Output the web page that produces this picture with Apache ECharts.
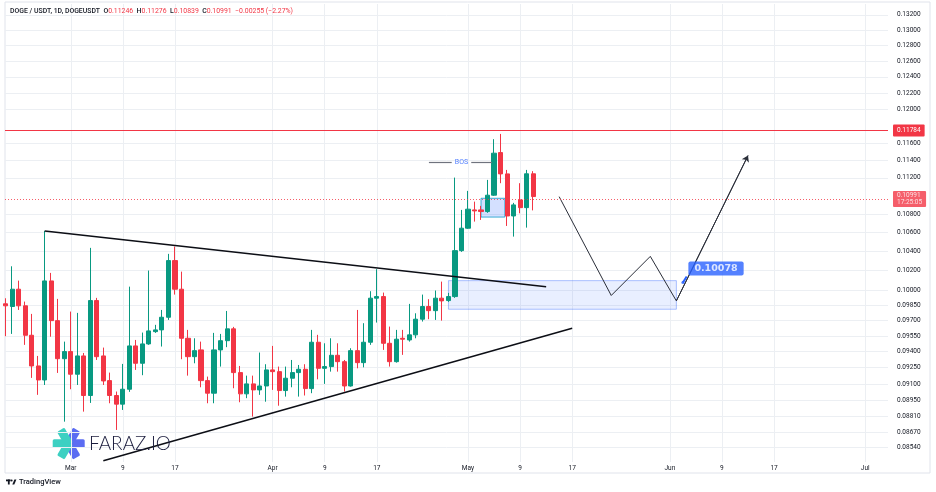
<!DOCTYPE html>
<html>
<head>
<meta charset="utf-8">
<style>
  html, body { margin: 0; padding: 0; background: #fff; }
  #chart { width: 936px; height: 492px; }
</style>
<script src="https://cdn.jsdelivr.net/npm/echarts@6.0.0/dist/echarts.min.js"></script>
</head>
<body>
<div id="chart"></div>
<script>
// DOGE / USDT daily candles, first bar on firstDay, one bar per day
const firstDay = '2023-02-19';
const opens = [0.09865, 0.09838, 0.10011, 0.09845, 0.09557, 0.09266, 0.09136, 0.10095, 0.09699, 0.09334,
  0.09401, 0.09189, 0.09360, 0.08994, 0.09897, 0.09360, 0.09130, 0.08994, 0.08916, 0.09051,
  0.09455, 0.09291, 0.09474, 0.09592, 0.09609, 0.09732, 0.10304, 0.10011, 0.09528, 0.09353,
  0.09417, 0.09130, 0.09015, 0.09417, 0.09505, 0.09619, 0.09204, 0.09009, 0.09100, 0.09045,
  0.09081, 0.09229, 0.09213, 0.09039, 0.09152, 0.09204, 0.09235, 0.09057, 0.09490, 0.09244,
  0.09260, 0.09366, 0.09306, 0.09081, 0.09410, 0.09297, 0.09490, 0.09921, 0.09937, 0.09480,
  0.09306, 0.09528, 0.09512, 0.09561, 0.09713, 0.09838, 0.09797, 0.09921, 0.09897, 0.09937,
  0.10408, 0.10646, 0.10844, 0.10844, 0.10826, 0.11006, 0.11489, 0.11245, 0.10778, 0.10954,
  0.10869, 0.11246];
const highs = [0.09920, 0.10245, 0.10098, 0.09887, 0.09765, 0.09360, 0.10617, 0.10177, 0.09914, 0.09496,
  0.09788, 0.09775, 0.09388, 0.10437, 0.09924, 0.09439, 0.09204, 0.09030, 0.09285, 0.10037,
  0.09512, 0.09583, 0.10201, 0.09658, 0.09804, 0.10374, 0.10451, 0.10190, 0.09609, 0.09528,
  0.09496, 0.09167, 0.09580, 0.09570, 0.09794, 0.09638, 0.09266, 0.09176, 0.09176, 0.09392,
  0.09282, 0.09455, 0.09260, 0.09260, 0.09322, 0.09275, 0.09282, 0.09609, 0.09561, 0.09480,
  0.09528, 0.09480, 0.09322, 0.09433, 0.09804, 0.09674, 0.09991, 0.10215, 0.09977, 0.09641,
  0.09609, 0.09609, 0.09864, 0.09771, 0.09957, 0.09911, 0.09998, 0.10088, 0.09974, 0.11203,
  0.10844, 0.11054, 0.10935, 0.10888, 0.11177, 0.11645, 0.11707, 0.11290, 0.10921, 0.11140,
  0.11290, 0.11276];
const lows = [0.09548, 0.09570, 0.09804, 0.09465, 0.09155, 0.09000, 0.09090, 0.09543, 0.09201, 0.08760,
  0.09051, 0.09090, 0.08849, 0.08927, 0.09322, 0.09090, 0.08924, 0.08687, 0.08864, 0.09027,
  0.09229, 0.09180, 0.09465, 0.09580, 0.09449, 0.09706, 0.09957, 0.09329, 0.09176, 0.09291,
  0.09069, 0.08924, 0.08924, 0.09260, 0.09443, 0.09060, 0.08933, 0.08970, 0.08805, 0.09000,
  0.08938, 0.09045, 0.08902, 0.08984, 0.09069, 0.08984, 0.08994, 0.09015, 0.09142, 0.09100,
  0.09213, 0.09213, 0.09030, 0.09075, 0.09244, 0.09253, 0.09465, 0.09680, 0.09417, 0.09260,
  0.09297, 0.09370, 0.09496, 0.09528, 0.09690, 0.09713, 0.09706, 0.09699, 0.09884, 0.09924,
  0.10395, 0.10639, 0.10717, 0.10735, 0.10812, 0.10998, 0.11140, 0.10670, 0.10556, 0.10807,
  0.10652, 0.10839];
const closes = [0.09845, 0.10011, 0.09845, 0.09557, 0.09266, 0.09136, 0.10095, 0.09699, 0.09334, 0.09401,
  0.09189, 0.09360, 0.08994, 0.09897, 0.09353, 0.09127, 0.08994, 0.08916, 0.09051, 0.09455,
  0.09291, 0.09474, 0.09599, 0.09609, 0.09732, 0.10304, 0.10011, 0.09528, 0.09353, 0.09410,
  0.09130, 0.09015, 0.09417, 0.09505, 0.09619, 0.09204, 0.09009, 0.09100, 0.09045, 0.09081,
  0.09229, 0.09213, 0.09039, 0.09152, 0.09204, 0.09235, 0.09057, 0.09490, 0.09244, 0.09260,
  0.09366, 0.09306, 0.09081, 0.09410, 0.09297, 0.09490, 0.09921, 0.09937, 0.09480, 0.09306,
  0.09519, 0.09519, 0.09561, 0.09713, 0.09838, 0.09797, 0.09921, 0.09894, 0.09937, 0.10408,
  0.10646, 0.10852, 0.10833, 0.10826, 0.11006, 0.11482, 0.11245, 0.10778, 0.10899, 0.10869,
  0.11246, 0.10991];

// axis ticks
const xTickDates = ['2023-03-01', '2023-03-09', '2023-03-17', '2023-04-01', '2023-04-09', '2023-04-17',
  '2023-05-01', '2023-05-09', '2023-05-17', '2023-06-01', '2023-06-09', '2023-06-17', '2023-07-01'];
const xTickLabels = ['Mar', '9', '17', 'Apr', '9', '17', 'May', '9', '17', 'Jun', '9', '17', 'Jul'];
const yTicks = [0.132, 0.130, 0.128, 0.126, 0.124, 0.122, 0.120, 0.116, 0.114, 0.112, 0.108, 0.106,
  0.104, 0.102, 0.100, 0.0985, 0.097, 0.0955, 0.094, 0.0925, 0.091, 0.0895, 0.0881, 0.0867, 0.0854];

// drawings
const resistance = 0.11784;
const lastPrice = 0.10991;
const lastTime = '17:25:05';
const upperTrend = [['2023-02-25', 0.10617], ['2023-05-13', 0.10037]];
const lowerTrend = [['2023-03-06', 0.08422], ['2023-05-17', 0.09624]];
const projection = [['2023-05-15', 0.10990], ['2023-05-23', 0.09948], ['2023-05-29', 0.10348],
  ['2023-06-02', 0.09894], ['2023-06-13', 0.11454]];
const demandZone = [['2023-04-28', 0.10098], ['2023-06-02', 0.09811]];
const bosBox = [['2023-05-03', 0.10972], ['2023-05-06 16:00', 0.10766]];
const bosLevel = 0.11382;
const bosSegments = [['2023-04-25', '2023-04-28 12:00'], ['2023-05-01 12:00', '2023-05-04 16:00']];
const bosTextDay = '2023-04-30';
const target = ['2023-06-03', 0.10078];
const targetTip = ['2023-06-03 14:00', 0.10140];

const lg = Math.log10;
const day0 = Date.parse('2023-03-01T00:00Z');
const day = s => (Date.parse(s.length > 10 ? s.replace(' ', 'T') + 'Z' : s + 'T00:00Z') - day0) / 864e5;
const pt = p => [day(p[0]), lg(p[1])];

const start = day(firstDay);
const candles = opens.map((o, i) => [start + i, lg(o), lg(closes[i]), lg(lows[i]), lg(highs[i])]);

const UP = '#089981', DOWN = '#F23645';
const n = closes.length;
const chg = closes[n - 1] - closes[n - 2];
const pct = chg / closes[n - 2] * 100;
const neg = s => s.replace('-', '\u2212');

const chart = echarts.init(document.getElementById('chart'));
chart.setOption({
  animation: false,
  backgroundColor: '#fff',
  grid: { left: 5, right: 48, top: 4, bottom: 30 },
  xAxis: {
    type: 'value', min: -10.1, max: 125.5,
    axisLine: { show: false },
    axisTick: { show: false, customValues: xTickDates.map(day) },
    splitLine: { show: true, lineStyle: { color: '#eceff3', width: 1 } },
    axisLabel: {
      customValues: xTickDates.map(day),
      formatter: v => xTickLabels[xTickDates.map(day).indexOf(v)] || '',
      color: '#131722', fontSize: 6.5, fontFamily: 'Roboto', margin: 3
    }
  },
  yAxis: {
    type: 'value', position: 'right', min: lg(0.08411), max: lg(0.13345),
    axisLine: { show: false },
    axisTick: { show: false, customValues: yTicks.map(lg) },
    splitLine: { show: true, lineStyle: { color: '#eceff3', width: 1 } },
    axisLabel: {
      customValues: yTicks.map(lg),
      formatter: v => Math.pow(10, v).toFixed(5),
      color: '#131722', fontSize: 6.5, fontFamily: 'Roboto', margin: 9
    }
  },
  series: [
    {
      type: 'line', name: 'zones', data: [], z: 1, silent: true,
      markArea: {
        silent: true,
        data: [
          [{ coord: pt(demandZone[0]), itemStyle: { color: 'rgba(41,98,255,0.10)', borderColor: 'rgba(41,98,255,0.38)', borderWidth: 1 } },
           { coord: pt(demandZone[1]) }],
          [{ coord: pt(bosBox[0]), itemStyle: { color: 'rgba(41,98,255,0.20)', borderColor: 'rgba(0,150,200,0.75)', borderWidth: 1 } },
           { coord: pt(bosBox[1]) }]
        ]
      }
    },
    {
      type: 'candlestick', name: 'DOGEUSDT', data: candles, barWidth: 4.6, z: 3,
      itemStyle: { color: UP, color0: DOWN, borderColor: UP, borderColor0: DOWN, borderWidth: 1 },
      markLine: {
        silent: true, symbol: 'none',
        label: {
          position: 'end', distance: 5, color: '#fff', backgroundColor: DOWN,
          fontSize: 6.5, fontFamily: 'Roboto', padding: [2, 4, 2, 4], lineHeight: 8, borderRadius: 1
        },
        data: [
          { yAxis: lg(resistance), lineStyle: { color: DOWN, width: 1.2, type: 'solid' },
            label: { formatter: resistance.toFixed(5) } },
          { yAxis: lg(lastPrice), lineStyle: { color: DOWN, width: 1, type: [1, 2], opacity: 0.8 },
            label: { formatter: lastPrice.toFixed(5) + '\n' + lastTime, lineHeight: 7, padding: [1, 4, 1, 4] } }
        ]
      }
    },
    {
      type: 'line', name: 'upper', data: upperTrend.map(pt), symbol: 'none', z: 4, silent: true,
      lineStyle: { color: '#0c0e15', width: 1.5 }
    },
    {
      type: 'line', name: 'lower', data: lowerTrend.map(pt), symbol: 'none', z: 4, silent: true,
      lineStyle: { color: '#0c0e15', width: 1.5 }
    },
    {
      type: 'line', name: 'path', data: projection.map(pt), symbol: 'none', z: 4, silent: true,
      lineStyle: { color: '#2a2e39', width: 1 },
      markLine: {
        silent: true, symbol: ['none', 'arrow'], symbolSize: 6, label: { show: false },
        lineStyle: { color: '#2a2e39', width: 1, type: 'solid' },
        data: [[{ coord: pt(projection[3]) }, { coord: pt(projection[4]) }]]
      }
    },
    {
      type: 'scatter', name: 'BOS', data: [[day(bosTextDay), lg(bosLevel)]], symbolSize: 0, z: 5, silent: true,
      label: { show: true, position: 'inside', formatter: 'BOS', color: '#2962ff', fontSize: 7, fontFamily: 'Roboto' },
      markLine: {
        silent: true, symbol: 'none', label: { show: false },
        lineStyle: { color: '#6f737e', width: 1.2, type: 'solid' },
        data: bosSegments.map(s => [{ coord: [day(s[0]), lg(bosLevel)] }, { coord: [day(s[1]), lg(bosLevel)] }])
      }
    },
    {
      type: 'line', name: 'tip', data: [pt(target), pt(targetTip)], symbol: 'none', z: 5, silent: true,
      lineStyle: { color: '#2962ff', width: 2 }
    },
    {
      type: 'scatter', name: 'target', data: [pt(target)], symbolSize: 3, z: 6, silent: true,
      itemStyle: { color: '#2962ff' },
      label: {
        show: true, position: 'right', distance: 0, offset: [4, -14],
        formatter: target[1].toFixed(5), color: '#fff', backgroundColor: '#2962ff',
        fontSize: 9.5, fontWeight: 'bold', fontFamily: 'DejaVu Sans',
        padding: [2, 6, 2, 6], lineHeight: 10, borderRadius: 2
      }
    }
  ],
  graphic: [
    { type: 'rect', z: 0, silent: true, shape: { x: 5, y: 2, width: 925, height: 471 },
      style: { fill: 'none', stroke: '#e0e3eb', lineWidth: 1 } },
    {
      type: 'text', left: 10, top: 8, z: 10, silent: true,
      style: {
        text: '{t|DOGE / USDT, 1D, DOGEUSDT}  {t|O}{r|' + opens[n - 1].toFixed(5) + '}  {t|H}{r|' + highs[n - 1].toFixed(5) +
          '}  {t|L}{r|' + lows[n - 1].toFixed(5) + '}  {t|C}{r|' + closes[n - 1].toFixed(5) + '}  {r|' +
          neg(chg.toFixed(5)) + ' (' + neg(pct.toFixed(2)) + '%)}',
        rich: {
          t: { fill: '#131722', fontSize: 6.9, fontFamily: 'Roboto', fontWeight: 500 },
          r: { fill: DOWN, fontSize: 6.9, fontFamily: 'Roboto' }
        },
        fontSize: 6.9, fontFamily: 'Roboto'
      }
    },
    {
      type: 'group', x: 68.7, y: 443.6, z: 10, silent: true,
      children: [0, 60, -60, 180, 120, -120].map(a => ({
        type: 'rect', rotation: a * Math.PI / 180,
        shape: { x: -1, y: -4.3, width: 17, height: 8.6, r: 1.5 },
        style: { fill: Math.abs(a) < 90 ? '#5b6cf2' : '#3dd0c2' }
      }))
    },
    {
      type: 'text', x: 89, y: 443.6, z: 10, silent: true,
      style: { text: 'FARAZ.IO', fill: '#1a1c3d', fontSize: 19, fontFamily: 'Lato', fontWeight: 300, verticalAlign: 'middle' }
    },
    {
      type: 'group', x: 0, y: 0, z: 10, silent: true,
      children: [
        { type: 'rect', shape: { x: 6, y: 479.5, width: 4.6, height: 1.8 }, style: { fill: '#131722' } },
        { type: 'rect', shape: { x: 7.9, y: 479.5, width: 1.8, height: 5 }, style: { fill: '#131722' } },
        { type: 'circle', shape: { cx: 11.6, cy: 480.5, r: 1 }, style: { fill: '#131722' } },
        { type: 'polygon', shape: { points: [[12.3, 484.5], [14.4, 479.5], [16.4, 479.5], [14.3, 484.5]] }, style: { fill: '#131722' } },
        { type: 'text', x: 19, y: 482.2, style: { text: 'TradingView', fill: '#131722', fontSize: 7.5, fontFamily: 'Roboto', fontWeight: 500, verticalAlign: 'middle' } }
      ]
    }
  ]
});
</script>
</body>
</html>
